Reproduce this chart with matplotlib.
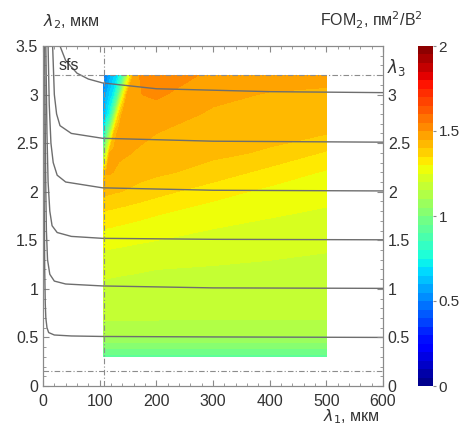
import numpy as np
import matplotlib
matplotlib.use("Agg")
import matplotlib.pyplot as plt
from matplotlib.ticker import MultipleLocator

plt.rcParams['font.family'] = ['Liberation Sans', 'DejaVu Sans']

# ---- data ----
x_nodes = [107, 112, 118, 125, 133, 142, 150, 160, 175, 200, 300, 400, 500]
y_nodes = [0.3, 0.35, 0.4, 0.5, 0.6, 0.7, 1.0, 1.2, 1.4, 1.6, 1.8, 2.0,
           2.2, 2.4, 2.6, 2.8, 3.0, 3.2]
fom_rows = [
    [0.93] * 13,
    [0.97] * 13,
    [1.017] * 13,
    [1.09] * 13,
    [1.131] * 13,
    [1.156, 1.156, 1.156, 1.155, 1.155, 1.155, 1.155, 1.155, 1.155, 1.155, 1.154, 1.154, 1.153],
    [1.189, 1.188, 1.188, 1.187, 1.186, 1.185, 1.184, 1.184, 1.183, 1.182, 1.179, 1.176, 1.174],
    [1.212, 1.211, 1.210, 1.209, 1.208, 1.207, 1.206, 1.205, 1.203, 1.200, 1.195, 1.191, 1.188],
    [1.250, 1.250, 1.248, 1.246, 1.245, 1.243, 1.241, 1.239, 1.237, 1.233, 1.220, 1.210, 1.202],
    [1.295, 1.293, 1.292, 1.289, 1.286, 1.284, 1.281, 1.278, 1.274, 1.268, 1.247, 1.234, 1.223],
    [1.350, 1.347, 1.345, 1.342, 1.338, 1.335, 1.331, 1.326, 1.320, 1.309, 1.279, 1.259, 1.245],
    [1.415, 1.412, 1.410, 1.405, 1.402, 1.398, 1.394, 1.389, 1.381, 1.367, 1.320, 1.287, 1.269],
    [1.380, 1.455, 1.455, 1.449, 1.440, 1.433, 1.427, 1.423, 1.417, 1.410, 1.381, 1.332, 1.294],
    [1.070, 1.210, 1.450, 1.465, 1.460, 1.457, 1.454, 1.448, 1.440, 1.430, 1.411, 1.394, 1.344],
    [0.750, 0.910, 1.105, 1.400, 1.475, 1.475, 1.471, 1.467, 1.462, 1.450, 1.427, 1.414, 1.402],
    [0.600, 0.680, 0.770, 1.000, 1.340, 1.490, 1.487, 1.485, 1.481, 1.479, 1.442, 1.430, 1.421],
    [0.550, 0.600, 0.660, 0.720, 0.930, 1.290, 1.495, 1.497, 1.500, 1.508, 1.464, 1.446, 1.440],
    [0.450, 0.510, 0.580, 0.640, 0.710, 0.890, 1.200, 1.470, 1.515, 1.520, 1.493, 1.475, 1.467],
]

# lambda3 iso-lines (x = lambda1, y = lambda2)
c05_x = [1.5, 2, 3, 4, 5, 7, 10, 20, 50, 105, 300, 600]
c05_y = [3.5, 2.0, 1.2, 0.85, 0.7, 0.6, 0.55, 0.525, 0.515, 0.51, 0.505, 0.5]
c1_x = [3, 4, 5, 6, 8, 12, 20, 40, 105, 300, 600]
c1_y = [3.5, 2.6, 2.0, 1.6, 1.3, 1.15, 1.08, 1.05, 1.03, 1.01, 1.005]
c15_x = [5, 7, 9, 12, 16, 25, 50, 105, 300, 600]
c15_y = [3.5, 2.6, 2.1, 1.8, 1.65, 1.58, 1.54, 1.52, 1.51, 1.505]
c2_x = [9, 11, 14, 18, 25, 40, 105, 300, 600]
c2_y = [3.5, 2.9, 2.5, 2.3, 2.17, 2.1, 2.04, 2.015, 2.008]
c25_x = [17, 20, 24, 30, 50, 105, 300, 600]
c25_y = [3.5, 3.0, 2.8, 2.68, 2.6, 2.55, 2.52, 2.51]
c3_x = [30, 40, 60, 80, 105, 200, 400, 600]
c3_y = [3.5, 3.35, 3.22, 3.16, 3.12, 3.06, 3.03, 3.02]
curves = [(c05_x, c05_y), (c1_x, c1_y), (c15_x, c15_y), (c2_x, c2_y),
          (c25_x, c25_y), (c3_x, c3_y)]

guide_x = 107
guide_y = [0.15, 3.2]

left_ticks = [0, 0.5, 1, 1.5, 2, 2.5, 3, 3.5]
right_ticks = [0, 0.5, 1, 1.5, 2, 2.5, 3]
bottom_ticks = [0, 100, 200, 300, 400, 500, 600]
cbar_ticks = [0, 0.5, 1, 1.5, 2]
levels = np.linspace(0, 2, 41)

# ---- figure ----
W, H = 461, 426
fig = plt.figure(figsize=(W / 100, H / 100), dpi=100)
ax = fig.add_axes([43 / W, 40 / H, 340 / W, 340 / H])
cax = fig.add_axes([418 / W, 40 / H, 15 / W, 340 / H])

X, Y = np.meshgrid(x_nodes, y_nodes)
Z = np.array(fom_rows)
cs = ax.contourf(X, Y, Z, levels=levels, cmap='jet', vmin=0, vmax=2, zorder=1)

line_col = '#6e6e6e'
for cx, cy in curves:
    ax.plot(cx, cy, color=line_col, lw=1.0, zorder=3)

dash = (0, (5, 2, 1, 2))
guide_col = '#8c8c8c'
ax.axvline(guide_x, color=guide_col, lw=0.8, ls=dash, zorder=4)
for gy in guide_y:
    ax.axhline(gy, color=guide_col, lw=0.8, ls=dash, zorder=4)

fs = 11.5
ax.set_xlim(0, 600)
ax.set_ylim(0, 3.5)
ax.set_xticks(bottom_ticks)
ax.set_yticks(left_ticks)
ax.set_yticklabels([f'{t:g}' for t in left_ticks])
ax.xaxis.set_minor_locator(MultipleLocator(20))
ax.yaxis.set_minor_locator(MultipleLocator(0.1))
txt_col = '#333333'
spine_col = '#8a8a8a'
ax.tick_params(which='both', direction='in', top=True, right=True,
               colors=spine_col, labelcolor=txt_col, labelsize=fs)
ax.tick_params(axis='x', pad=6)
ax.tick_params(which='major', length=4, width=0.8)
ax.tick_params(which='minor', length=2, width=0.6)
for s in ax.spines.values():
    s.set_color(spine_col)
    s.set_linewidth(0.8)

ax2 = ax.twinx()
ax2.set_ylim(0, 3.5)
ax2.set_yticks(right_ticks)
ax2.set_yticklabels([f'{t:g}' for t in right_ticks])
ax2.yaxis.set_minor_locator(MultipleLocator(0.1))
ax2.tick_params(which='both', direction='in', colors=spine_col,
                labelcolor=txt_col, labelsize=fs)
ax2.tick_params(which='major', length=4, width=0.8)
ax2.tick_params(which='minor', length=2, width=0.6)
for s in ax2.spines.values():
    s.set_color(spine_col)
    s.set_linewidth(0.8)

ax.text(27, 3.3, 'sfs', fontsize=fs, color=txt_col, va='center', ha='left', zorder=5)
fig.text(387 / W, 1 - 68 / H, r'$\lambda_3$', fontsize=12, color=txt_col,
         ha='left', va='center')
fig.text(43 / W, 1 - 22 / H, r'$\lambda_2$, мкм', fontsize=fs, color=txt_col,
         ha='left', va='center')
fig.text(323 / W, 1 - 417 / H, r'$\lambda_1$, мкм', fontsize=fs, color=txt_col,
         ha='left', va='center')
fig.text(320 / W, 1 - 20 / H, r'FOM$_2$, пм$^2$/В$^2$', fontsize=fs,
         color=txt_col, ha='left', va='center')

cb = fig.colorbar(cs, cax=cax, ticks=cbar_ticks)
cb.ax.set_yticklabels([f'{t:g}' for t in cbar_ticks])
cb.ax.tick_params(labelsize=11, labelcolor=txt_col, length=2, pad=2,
                  colors=spine_col)
cb.outline.set_visible(False)

fig.savefig('out.png', dpi=100)
